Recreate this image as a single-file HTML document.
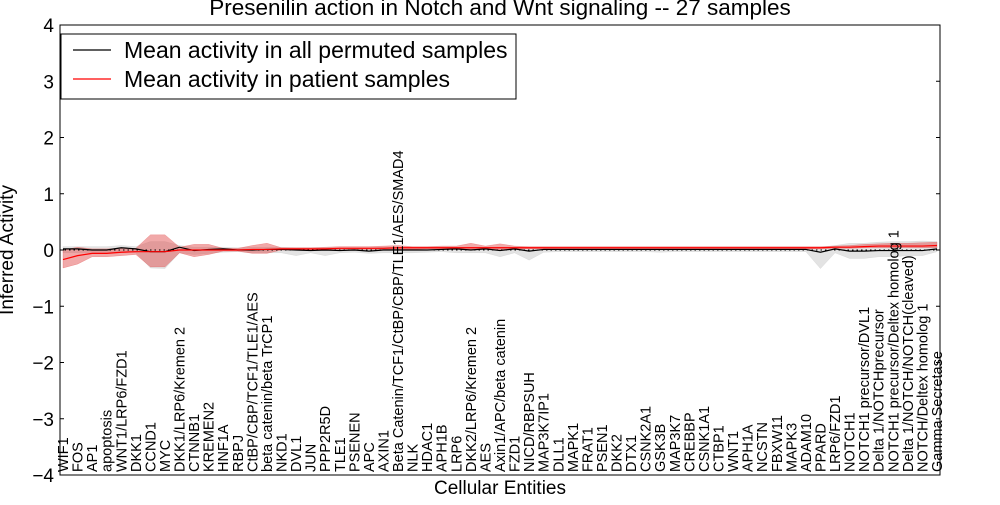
<!DOCTYPE html>
<html><head><meta charset="utf-8"><style>
body{margin:0;background:#fff;font-family:"Liberation Sans",sans-serif}
svg text{font-family:"Liberation Sans",sans-serif;fill:#000}
</style></head><body>
<svg id="c" width="1000" height="500"></svg>
<script>
const categories=["WIF1","FOS","AP1","apoptosis","WNT1/LRP6/FZD1","DKK1","CCND1","MYC","DKK1/LRP6/Kremen 2","CTNNB1","KREMEN2","HNF1A","RBPJ","CtBP/CBP/TCF1/TLE1/AES","beta catenin/beta TrCP1","NKD1","DVL1","JUN","PPP2R5D","TLE1","PSENEN","APC","AXIN1","Beta Catenin/TCF1/CtBP/CBP/TLE1/AES/SMAD4","NLK","HDAC1","APH1B","LRP6","DKK2/LRP6/Kremen 2","AES","Axin1/APC/beta catenin","FZD1","NICD/RBPSUH","MAP3K7IP1","DLL1","MAPK1","FRAT1","PSEN1","DKK2","DTX1","CSNK2A1","GSK3B","MAP3K7","CREBBP","CSNK1A1","CTBP1","WNT1","APH1A","NCSTN","FBXW11","MAPK3","ADAM10","PPARD","LRP6/FZD1","NOTCH1","NOTCH1 precursor/DVL1","Delta 1/NOTCHprecursor","NOTCH1 precursor/Deltex homolog 1","Delta 1/NOTCH/NOTCH(cleaved)","NOTCH/Deltex homolog 1","Gamma Secretase"];
const redMean=[-0.17,-0.1,-0.06,-0.06,-0.04,-0.03,-0.03,-0.03,0,0,0,0,0,0.01,0.01,0.02,0.02,0.02,0.02,0.03,0.03,0.03,0.03,0.04,0.04,0.04,0.04,0.04,0.04,0.04,0.04,0.04,0.04,0.04,0.04,0.04,0.04,0.04,0.04,0.04,0.04,0.04,0.04,0.04,0.04,0.04,0.04,0.04,0.04,0.04,0.04,0.04,0.04,0.05,0.05,0.06,0.07,0.07,0.07,0.07,0.08];
const redLo=[-0.32,-0.25,-0.12,-0.12,-0.1,-0.08,-0.3,-0.3,-0.05,-0.12,-0.08,-0.02,-0.02,-0.06,-0.06,0,0,0,0,0.01,0.01,0.01,0.01,0.01,0.01,0.02,0.02,0.02,0.01,0.02,0.01,0.02,0.02,0.02,0.02,0.02,0.02,0.02,0.02,0.02,0.02,0.02,0.02,0.02,0.02,0.02,0.02,0.02,0.02,0.02,0.02,0.02,0.02,0.03,0.03,0.04,0.04,0.04,0.04,0.04,0.04];
const redHi=[0,0.05,0.02,0.02,0.03,0.03,0.27,0.27,0.05,0.1,0.1,0.03,0.03,0.08,0.12,0.04,0.04,0.04,0.05,0.06,0.06,0.06,0.07,0.08,0.06,0.06,0.07,0.07,0.12,0.07,0.11,0.07,0.06,0.06,0.06,0.06,0.06,0.06,0.06,0.06,0.06,0.06,0.06,0.06,0.06,0.06,0.06,0.06,0.06,0.06,0.06,0.06,0.06,0.07,0.08,0.1,0.11,0.12,0.12,0.13,0.14];
const blackMean=[0.02,0.02,0,0,0.04,0.02,-0.03,-0.03,0.05,-0.01,0.01,0.02,0,0,0.01,0.01,0,-0.01,0,-0.01,0,-0.02,0,0,0,0,0.01,0.02,0,0.02,-0.01,0.02,-0.02,0.01,0.01,0.01,0.01,0.01,0.01,0.01,0.01,0.01,0.01,0.01,0.01,0.01,0.01,0.01,0.01,0.01,0.01,0.01,-0.04,0.02,-0.02,-0.02,-0.01,-0.01,-0.01,-0.01,0.02];
const grayLo=[-0.05,-0.05,-0.05,-0.05,-0.03,-0.05,-0.32,-0.33,-0.05,-0.08,-0.06,-0.04,-0.03,-0.05,-0.05,-0.05,-0.1,-0.05,-0.1,-0.05,-0.04,-0.06,-0.05,-0.05,-0.05,-0.04,-0.03,-0.05,-0.05,-0.05,-0.12,-0.05,-0.18,-0.04,-0.03,-0.03,-0.03,-0.03,-0.03,-0.03,-0.03,-0.04,-0.03,-0.03,-0.03,-0.03,-0.03,-0.03,-0.03,-0.03,-0.03,-0.03,-0.33,-0.05,-0.15,-0.15,-0.12,-0.12,-0.1,-0.1,-0.03];
const grayHi=[0.06,0.06,0.06,0.06,0.08,0.06,0.15,0.15,0.08,0.05,0.05,0.05,0.04,0.05,0.05,0.05,0.04,0.04,0.04,0.04,0.04,0.04,0.05,0.05,0.05,0.05,0.05,0.05,0.05,0.05,0.05,0.05,0.05,0.05,0.04,0.04,0.04,0.04,0.04,0.04,0.04,0.04,0.04,0.04,0.04,0.04,0.04,0.04,0.04,0.04,0.04,0.04,0.05,0.08,0.12,0.12,0.14,0.15,0.15,0.16,0.15];
const yTicks=[-4,-3,-2,-1,0,1,2,3,4];

const NS="http://www.w3.org/2000/svg";
const svg=document.getElementById('c');
const L=60,R=940,T=25,B=475;
const xs=i=>L+3+i*(R-L-6)/(categories.length-1);
const ys=v=>T+(4-v)*(B-T)/8;
function mk(t,a){const e=document.createElementNS(NS,t);for(const k in a)e.setAttribute(k,a[k]);svg.appendChild(e);return e;}
function band(lo,hi,fill,op,name){
  let d="M"+lo.map((v,i)=>xs(i)+","+ys(v)).join(" L");
  d+=" L"+hi.map((v,i)=>xs(i)+","+ys(v)).reverse().join(" L")+" Z";
  const p=mk('path',{d:d,fill:fill,'fill-opacity':op,stroke:fill,'stroke-opacity':op,'stroke-width':0.5});
  
  
}
band(grayLo,grayHi,'#c8c8c8',0.5,'permuted-band');
band(redLo,redHi,'#e04040',0.45,'patient-band');
const z=mk('line',{x1:L,x2:R,y1:ys(0),y2:ys(0),stroke:'#000','stroke-dasharray':'1.5,3','stroke-width':1});


function line(vals,col,name){
  const p=mk('polyline',{points:vals.map((v,i)=>xs(i)+","+ys(v)).join(" "),fill:'none',stroke:col,'stroke-width':1.2});
  
  
}
line(blackMean,'#000','permuted-mean-line');
line(redMean,'#f00','patient-mean-line');
const fr=mk('rect',{x:L,y:T,width:R-L,height:B-T,fill:'none',stroke:'#000','stroke-width':1});


yTicks.forEach(v=>{
  mk('line',{x1:L,x2:L+4,y1:ys(v),y2:ys(v),stroke:'#000'});
  mk('line',{x1:R-4,x2:R,y1:ys(v),y2:ys(v),stroke:'#000'});
  const t=mk('text',{x:L-6,y:ys(v)+7,'text-anchor':'end','font-size':19});
  t.textContent=(v<0?'\u2212':'')+Math.abs(v);
  
  
});
categories.forEach((c,i)=>{
  const t=mk('text',{x:0,y:0,'font-size':14.5,transform:`translate(${xs(i)+5},${B-3}) rotate(-90)`});
  t.textContent=c;
  
  
});
</script>
<svg style="position:absolute;left:0;top:0" width="1000" height="500">
<text x="500" y="15" text-anchor="middle" font-size="22.5">Presenilin action in Notch and Wnt signaling -- 27 samples</text>
<text x="500" y="494" text-anchor="middle" font-size="19">Cellular Entities</text>
<text transform="translate(13,250) rotate(-90)" text-anchor="middle" font-size="19">Inferred Activity</text>
<g>
<rect x="61" y="34" width="455" height="65" fill="#fff" stroke="#000"/>
<line x1="73" x2="111" y1="50" y2="50" stroke="#000" stroke-width="1.2"/>
<text x="124" y="58" font-size="23">Mean activity in all permuted samples</text>
<line x1="73" x2="111" y1="79" y2="79" stroke="#f00" stroke-width="1.2"/>
<text x="124" y="87" font-size="23">Mean activity in patient samples</text>
</g>
</svg>
</body></html>
